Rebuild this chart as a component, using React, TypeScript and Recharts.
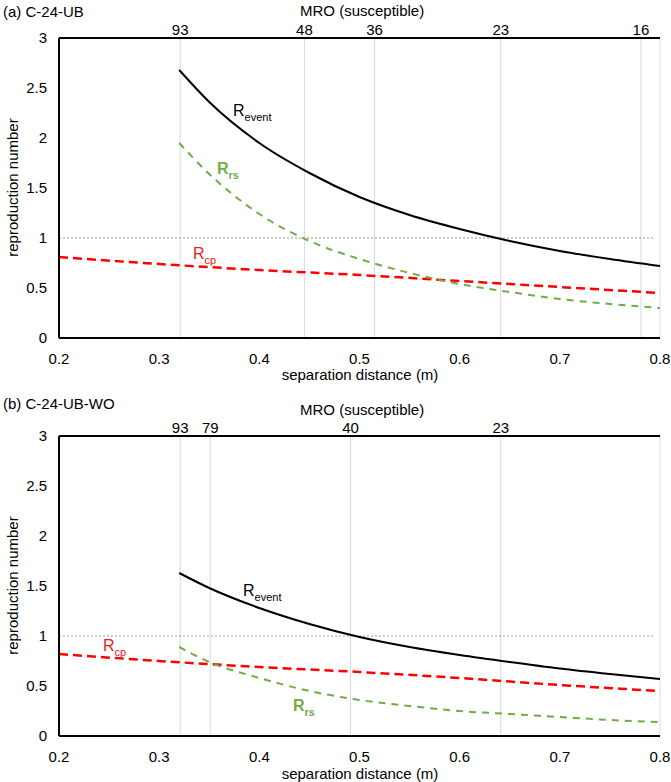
import React from 'react';
import { LineChart, Line, XAxis, YAxis, CartesianGrid, ReferenceLine } from 'recharts';

// separation distance (m) sample points
const xCurve = [0.32, 0.35, 0.4, 0.45, 0.5, 0.55, 0.6, 0.65, 0.7, 0.75, 0.8];
const xCp = [0.2, 0.3, 0.4, 0.5, 0.6, 0.7, 0.8];

// (a) C-24-UB
const rEventA = [2.68, 2.36, 1.95, 1.65, 1.41, 1.23, 1.09, 0.97, 0.87, 0.79, 0.72];
const rRsA = [1.95, 1.64, 1.24, 0.97, 0.79, 0.65, 0.54, 0.46, 0.39, 0.34, 0.3];
const rCpA = [0.81, 0.74, 0.68, 0.63, 0.57, 0.51, 0.45];
const mroPosA = [0.321, 0.445, 0.515, 0.641, 0.781];
const mroLabelsA = ['93', '48', '36', '23', '16'];

// (b) C-24-UB-WO
const rEventB = [1.63, 1.48, 1.28, 1.12, 0.99, 0.89, 0.81, 0.74, 0.675, 0.62, 0.57];
const rRsB = [0.89, 0.74, 0.58, 0.45, 0.36, 0.3, 0.25, 0.22, 0.19, 0.16, 0.14];
const rCpB = [0.82, 0.75, 0.69, 0.64, 0.58, 0.51, 0.45];
const mroPosB = [0.321, 0.351, 0.491, 0.641];
const mroLabelsB = ['93', '79', '40', '23'];

const distTicks = [0.2, 0.3, 0.4, 0.5, 0.6, 0.7, 0.8];
const rTicks = [0, 0.5, 1, 1.5, 2, 2.5, 3];
const thresholdSeg = [{ x: 0.2, y: 1 }, { x: 0.795, y: 1 }];

const FONT = '"Liberation Sans", Arial, sans-serif';
const tickStyle = { fontSize: 15, fill: '#000', fontFamily: FONT };

const toPts = (xs: number[], ys: number[]) => xs.map((x, i) => ({ x, y: ys[i] }));

type PanelProps = {
  height: number;
  bottomMargin: number;
  rEvent: number[];
  rRs: number[];
  rCp: number[];
  mroPos: number[];
  mroLabels: string[];
};

function Panel({ height, bottomMargin, rEvent, rRs, rCp, mroPos, mroLabels }: PanelProps) {
  const fmtTop = (v: number) => {
    const i = mroPos.findIndex((p) => Math.abs(p - v) < 1e-6);
    return i >= 0 ? mroLabels[i] : '';
  };
  return (
    <LineChart width={671} height={height} margin={{ top: 0, right: 11, bottom: bottomMargin, left: 0 }}>
      <CartesianGrid horizontal={false} vertical={true} xAxisId="top" stroke="#d9d9d9" strokeWidth={1} />
      <XAxis
        xAxisId={0}
        dataKey="x"
        type="number"
        domain={[0.2, 0.8]}
        ticks={distTicks}
        interval={0}
        allowDataOverflow
        height={30}
        tickLine={false}
        tickSize={0}
        tickMargin={15}
        axisLine={{ stroke: '#000', strokeWidth: 2 }}
        tick={tickStyle}
        tickFormatter={(v: number) => v.toFixed(1)}
      />
      <XAxis
        xAxisId="top"
        orientation="top"
        dataKey="x"
        type="number"
        domain={[0.2, 0.8]}
        ticks={mroPos}
        interval={0}
        allowDataOverflow
        height={38}
        tickLine={false}
        tickSize={0}
        tickMargin={3}
        axisLine={{ stroke: '#000', strokeWidth: 2 }}
        tick={tickStyle}
        tickFormatter={fmtTop}
      />
      <YAxis
        type="number"
        domain={[0, 3]}
        ticks={rTicks}
        interval={0}
        width={59}
        tickLine={false}
        tickSize={0}
        tickMargin={12}
        axisLine={{ stroke: '#000', strokeWidth: 2 }}
        tick={tickStyle}
      />
      <ReferenceLine segment={thresholdSeg} stroke="#808080" strokeWidth={0.8} strokeDasharray="2 2" />
      <Line
        data={toPts(xCp, rCp)}
        dataKey="y"
        type="monotone"
        stroke="#ff0000"
        strokeWidth={2.5}
        strokeDasharray="9 5"
        dot={false}
        isAnimationActive={false}
      />
      <Line
        data={toPts(xCurve, rRs)}
        dataKey="y"
        type="monotone"
        stroke="#70ad47"
        strokeWidth={2}
        strokeDasharray="7 6"
        dot={false}
        isAnimationActive={false}
      />
      <Line
        data={toPts(xCurve, rEvent)}
        dataKey="y"
        type="monotone"
        stroke="#000"
        strokeWidth={2}
        dot={false}
        isAnimationActive={false}
      />
    </LineChart>
  );
}

const abs = (left: number, top: number, extra: React.CSSProperties = {}): React.CSSProperties => ({
  position: 'absolute',
  left,
  top,
  fontSize: 15,
  lineHeight: '15px',
  whiteSpace: 'nowrap',
  ...extra,
});

function RLabel({ left, top, sub, color, bold }: { left: number; top: number; sub: string; color: string; bold?: boolean }) {
  return (
    <div style={abs(left, top, { color, fontSize: 16, fontWeight: bold ? 'bold' : 'normal' })}>
      R<span style={{ fontSize: 11, position: 'relative', top: 5 }}>{sub}</span>
    </div>
  );
}

export default function App() {
  return (
    <div style={{ position: 'absolute', left: 0, top: 0, width: 671, height: 782, fontFamily: FONT, color: '#000', background: '#fff' }}>
      <div style={{ position: 'absolute', left: 0, top: 0 }}>
        <Panel height={398} bottomMargin={30} rEvent={rEventA} rRs={rRsA} rCp={rCpA} mroPos={mroPosA} mroLabels={mroLabelsA} />
      </div>
      <div style={{ position: 'absolute', left: 0, top: 398 }}>
        <Panel height={384} bottomMargin={16} rEvent={rEventB} rRs={rRsB} rCp={rCpB} mroPos={mroPosB} mroLabels={mroLabelsB} />
      </div>

      {/* panel (a) texts */}
      <div style={abs(3, 4)}>(a) C-24-UB</div>
      <div style={abs(300, 3, { width: 120, textAlign: 'center' })}>MRO (susceptible)</div>
      <div style={abs(-58, 180, { width: 140, textAlign: 'center', transform: 'rotate(-90deg)' })}>reproduction number</div>
      <div style={abs(260, 367, { width: 200, textAlign: 'center' })}>separation distance (m)</div>
      <RLabel left={233} top={103} sub="event" color="#000" />
      <RLabel left={217} top={161} sub="rs" color="#70ad47" bold />
      <RLabel left={193} top={246} sub="cp" color="#e8201c" />

      {/* panel (b) texts */}
      <div style={abs(3, 396)}>(b) C-24-UB-WO</div>
      <div style={abs(300, 402, { width: 120, textAlign: 'center' })}>MRO (susceptible)</div>
      <div style={abs(-58, 578, { width: 140, textAlign: 'center', transform: 'rotate(-90deg)' })}>reproduction number</div>
      <div style={abs(260, 766, { width: 200, textAlign: 'center' })}>separation distance (m)</div>
      <RLabel left={243} top={583} sub="event" color="#000" />
      <RLabel left={293} top={698} sub="rs" color="#70ad47" bold />
      <RLabel left={103} top={638} sub="cp" color="#e8201c" />
    </div>
  );
}
